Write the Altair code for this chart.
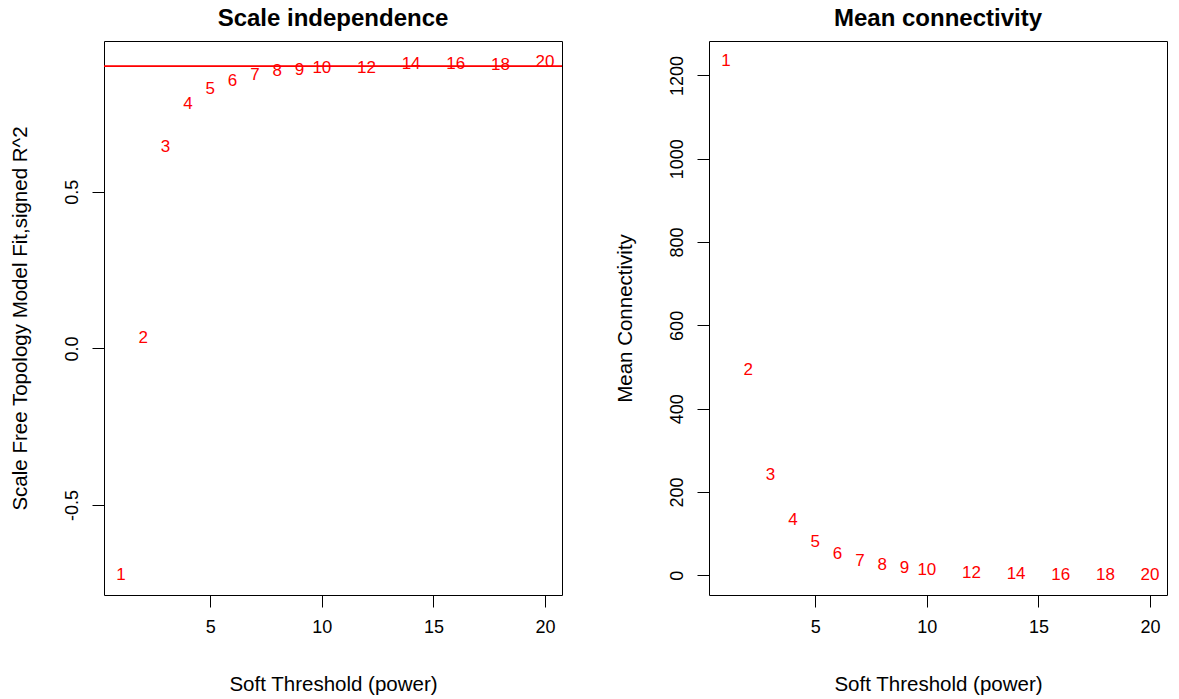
import altair as alt
import pandas as pd

# ---- data ----
powers = [1, 2, 3, 4, 5, 6, 7, 8, 9, 10, 12, 14, 16, 18, 20]
sft_r2 = [-0.722, 0.032, 0.643, 0.780, 0.828, 0.852, 0.872, 0.884, 0.888,
          0.895, 0.895, 0.908, 0.908, 0.905, 0.913]
mean_k = [1234.0, 492.7, 240.0, 132.0, 80.0, 50.5, 34.4, 24.0, 17.5,
          12.7, 6.5, 3.1, 1.7, 0.7, 0.3]
r2_cut = 0.90
x_ticks = [5, 10, 15, 20]
r2_ticks = [-0.5, 0.0, 0.5]
k_ticks = [0, 200, 400, 600, 800, 1000, 1200]

df = pd.DataFrame({
    "power": powers,
    "r2": sft_r2,
    "k": mean_k,
    "label": [str(p) for p in powers],
})

FONT = "Liberation Sans"
W, H = 458, 554
RED = "#FF0000"

common_axis = dict(
    domain=False, grid=False, ticks=True, tickSize=12, tickColor="black",
    tickWidth=1, labelFont=FONT, labelFontSize=18, labelColor="black",
    titleFont=FONT, titleFontSize=20.5, titleFontWeight="normal",
    titleColor="black", labelFlush=False, labelOverlap=False,
    labelPadding=11,
)


def x_enc():
    return alt.X(
        "power:Q",
        scale=alt.Scale(domain=[0.24, 20.76], nice=False, zero=False),
        axis=alt.Axis(
            values=x_ticks, title="Soft Threshold (power)", format="d",
            labelAlign="center", labelBaseline="top",
            titleX=W / 2, titleY=95, titleAlign="center",
            titleBaseline="alphabetic", **common_axis,
        ),
    )


def y_axis(values, title, label_expr):
    return alt.Axis(
        values=values, title=title, labelExpr=label_expr,
        labelAngle=270, labelAlign="center", labelBaseline="bottom",
        titleAngle=270, titleX=-84, titleY=H / 2, titleAlign="center",
        titleBaseline="middle", **common_axis,
    )


def title(txt):
    return alt.TitleParams(
        txt, font=FONT, fontSize=24, fontWeight="bold", color="black",
        anchor="middle", offset=10, baseline="bottom", frame="group", dy=24,
    )


text_style = dict(font=FONT, fontSize=17, color=RED, align="center",
                  baseline="middle")

left_pts = alt.Chart(df).mark_text(**text_style).encode(
    x=x_enc(),
    y=alt.Y("r2:Q",
            scale=alt.Scale(domain=[-0.787, 0.981], nice=False, zero=False),
            axis=y_axis(r2_ticks, "Scale Free Topology Model Fit,signed R^2",
                        "datum.value == 0 ? '0.0' : toString(datum.value)")),
    text="label:N",
)
left_rule = alt.Chart(df).mark_rule(color=RED, strokeWidth=1, opacity=0.75).encode(
    y=alt.datum(r2_cut),
)
left = alt.layer(left_pts, left_rule).properties(
    width=W, height=H, title=title("Scale independence"))

right = alt.Chart(df).mark_text(**text_style).encode(
    x=x_enc(),
    y=alt.Y("k:Q",
            scale=alt.Scale(domain=[-47.3, 1282.7], nice=False, zero=False),
            axis=y_axis(k_ticks, "Mean Connectivity", "toString(datum.value)")),
    text="label:N",
).properties(width=W, height=H, title=title("Mean connectivity"))

chart = alt.hconcat(left, right, spacing=147, bounds="flush").properties(
    padding={"left": 9, "top": 6, "right": 5, "bottom": 5},
    background="white",
).configure_view(stroke="black", strokeWidth=1)

chart.save("out.html", embed_options={"renderer": "svg", "actions": False})
